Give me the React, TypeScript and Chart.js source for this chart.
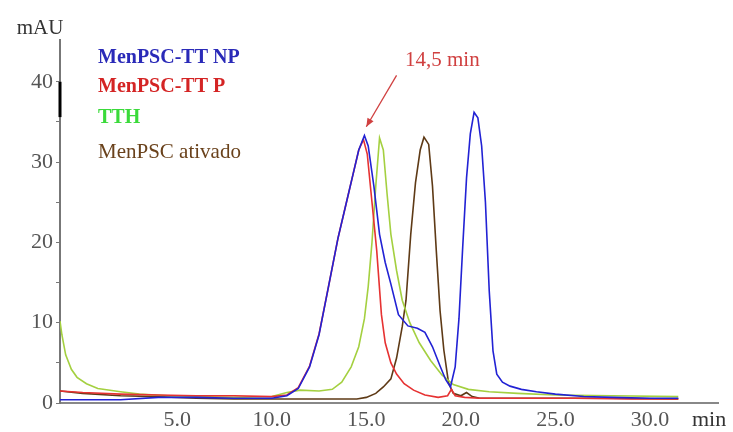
import React, { useEffect, useRef } from "react";
import { Chart, registerables } from "chart.js";

Chart.register(...registerables);

// ---- data ----
const seriesNames = ["MenPSC-TT NP", "MenPSC-TT P", "TTH", "MenPSC ativado"];
const xTickValues = [5, 10, 15, 20, 25, 30];
const yTickValues = [0, 5, 10, 15, 20, 25, 30, 35, 40];
const yLabelValues = [0, 10, 20, 30, 40];
const peakLabel = "14,5 min";
const yUnit = "mAU";
const xUnit = "min";

const npTime = [-1.2, 0, 2, 4, 6, 8, 10, 10.8, 11.4, 12.0, 12.5, 13.0, 13.5, 13.9, 14.3, 14.6, 14.9, 15.1, 15.4, 15.7, 16.0, 16.3, 16.7, 17.2, 17.7, 18.1, 18.5, 18.9, 19.2, 19.45, 19.7, 19.9, 20.1, 20.3, 20.5, 20.7, 20.9, 21.1, 21.3, 21.5, 21.7, 21.9, 22.2, 22.6, 23.2, 24.0, 25.0, 26.5, 28.0, 30.0, 31.5];
const npValues = [0.4, 0.4, 0.4, 0.7, 0.7, 0.6, 0.6, 0.9, 1.8, 4.5, 8.5, 14.5, 20.5, 24.5, 28.5, 31.5, 33.3, 32.0, 27.0, 21.0, 17.5, 14.8, 11.0, 9.6, 9.3, 8.8, 7.0, 4.6, 2.9, 2.0, 4.5, 10.5, 19.5, 28.0, 33.5, 36.2, 35.5, 32.0, 25.0, 14.0, 6.5, 3.6, 2.6, 2.1, 1.7, 1.4, 1.1, 0.8, 0.7, 0.6, 0.6];

const pTime = [-1.2, 0, 2, 4, 6, 8, 10, 10.8, 11.4, 12.0, 12.5, 13.0, 13.5, 13.9, 14.3, 14.6, 14.85, 15.05, 15.3, 15.55, 15.8, 16.0, 16.3, 16.6, 17.0, 17.5, 18.1, 18.8, 19.3, 19.5, 19.7, 20.2, 21, 23, 26, 29, 31.5];
const pValues = [1.5, 1.3, 1.1, 1.0, 0.9, 0.9, 0.8, 1.0, 1.9, 4.6, 8.6, 14.5, 20.5, 24.5, 28.5, 31.5, 32.8, 31.0, 25.0, 19.0, 11.0, 7.5, 5.0, 3.6, 2.4, 1.6, 1.0, 0.7, 0.9, 1.7, 0.9, 0.7, 0.6, 0.6, 0.6, 0.5, 0.5];

const tthTime = [-1.2, -1.1, -0.9, -0.6, -0.3, 0.2, 0.8, 2.0, 3.0, 4.5, 6, 8, 10, 10.8, 11.5, 12.5, 13.2, 13.7, 14.2, 14.6, 14.9, 15.1, 15.3, 15.5, 15.7, 15.9, 16.1, 16.3, 16.6, 16.9, 17.3, 17.8, 18.4, 19.0, 19.6, 20.4, 21.5, 23, 25, 28, 31.5];
const tthValues = [10.2, 8.5, 6.0, 4.2, 3.2, 2.4, 1.8, 1.4, 1.1, 0.9, 0.8, 0.7, 0.8, 1.3, 1.6, 1.5, 1.7, 2.6, 4.5, 7.0, 10.5, 14.5, 20.0, 27.0, 33.0, 31.5, 26.0, 21.0, 16.5, 12.8, 10.0, 7.5, 5.3, 3.5, 2.3, 1.7, 1.4, 1.2, 1.0, 0.9, 0.8];

const ativTime = [-1.2, 0, 2, 4, 6, 8, 10, 12, 13.5, 14.5, 15.0, 15.5, 15.9, 16.3, 16.6, 16.9, 17.1, 17.35, 17.6, 17.85, 18.05, 18.3, 18.5, 18.7, 18.9, 19.1, 19.35, 19.6, 20.0, 20.3, 20.6, 21.0, 22, 25, 28, 31.5];
const ativValues = [1.5, 1.2, 0.9, 0.8, 0.6, 0.5, 0.5, 0.5, 0.5, 0.5, 0.7, 1.2, 2.0, 3.0, 5.6, 9.5, 12.8, 21.0, 27.4, 31.5, 33.1, 32.2, 27.0, 19.0, 11.5, 6.6, 2.5, 1.2, 0.9, 1.3, 0.8, 0.6, 0.6, 0.6, 0.6, 0.5];

const lineColors = ["#2222d4", "#e63232", "#a4d040", "#5e3a16"];
const legendColors = ["#2a2ab8", "#d42424", "#3ada3a", "#6a421c"];

const toPoints = (t: number[], v: number[]) => t.map((x, i) => ({ x, y: v[i] }));

const SERIF = '"Liberation Serif", "Times New Roman", serif';

export default function App() {
  const ref = useRef<HTMLCanvasElement>(null);

  useEffect(() => {
    document.body.style.margin = "0";
    const canvas = ref.current!;

    const overlay = {
      id: "overlay",
      afterDraw(chart: any) {
        const c = chart.ctx;
        const xs = chart.scales.x;
        const ys = chart.scales.y;
        const area = chart.chartArea;
        c.save();
        // thick mark on the y axis
        c.strokeStyle = "#000";
        c.lineWidth = 3;
        c.beginPath();
        c.moveTo(area.left, ys.getPixelForValue(40));
        c.lineTo(area.left, ys.getPixelForValue(35.6));
        c.stroke();

        // axis units
        c.textBaseline = "middle";
        c.textAlign = "center";
        c.font = `21px ${SERIF}`;
        c.fillStyle = "#333";
        c.fillText(yUnit, area.left - 20, 28);
        c.textAlign = "left";
        c.font = `22px ${SERIF}`;
        c.fillText(xUnit, area.right - 26, 420);

        // legend texts
        const legendY = [58, 87, 118, 152];
        seriesNames.forEach((name, i) => {
          c.font = `${i < 3 ? "bold " : ""}${i < 3 ? 20 : 21}px ${SERIF}`;
          c.fillStyle = legendColors[i];
          c.fillText(name, 98, legendY[i]);
        });

        // peak annotation
        c.font = `21px ${SERIF}`;
        c.fillStyle = "#d04040";
        c.fillText(peakLabel, 405, 60);
        const x1 = xs.getPixelForValue(16.6);
        const y1 = ys.getPixelForValue(40.8);
        const x2 = xs.getPixelForValue(15.0);
        const y2 = ys.getPixelForValue(34.4);
        c.strokeStyle = "#d04040";
        c.lineWidth = 1.3;
        c.beginPath();
        c.moveTo(x1, y1);
        c.lineTo(x2, y2);
        c.stroke();
        const ang = Math.atan2(y2 - y1, x2 - x1);
        const L = 9;
        c.fillStyle = "#d04040";
        c.beginPath();
        c.moveTo(x2, y2);
        c.lineTo(x2 - L * Math.cos(ang - 0.4), y2 - L * Math.sin(ang - 0.4));
        c.lineTo(x2 - L * Math.cos(ang + 0.4), y2 - L * Math.sin(ang + 0.4));
        c.closePath();
        c.fill();
        c.restore();
      },
    };

    const datasets = [
      { label: seriesNames[0], data: toPoints(npTime, npValues) },
      { label: seriesNames[1], data: toPoints(pTime, pValues) },
      { label: seriesNames[2], data: toPoints(tthTime, tthValues) },
      { label: seriesNames[3], data: toPoints(ativTime, ativValues) },
    ].map((d, i) => ({
      ...d,
      borderColor: lineColors[i],
      backgroundColor: lineColors[i],
      borderWidth: 1.6,
      pointRadius: 0,
      tension: 0,
      fill: false,
    }));

    const chart = new Chart(canvas, {
      type: "line",
      data: { datasets },
      options: {
        animation: false,
        responsive: false,
        maintainAspectRatio: false,
        layout: { padding: { left: 0, right: 15, top: 40, bottom: 0 } },
        plugins: { legend: { display: false }, tooltip: { enabled: false } },
        scales: {
          x: {
            type: "linear",
            min: -1.2,
            max: 33.6,
            afterBuildTicks: (s: any) => {
              s.ticks = xTickValues.map((value) => ({ value }));
            },
            afterFit: (s: any) => {
              s.height = 29;
            },
            ticks: {
              callback: (v: any) => Number(v).toFixed(1),
              color: "#555",
              font: { family: SERIF, size: 22 },
              padding: 4,
              maxRotation: 0,
              autoSkip: false,
            },
            grid: { drawOnChartArea: false, drawTicks: false },
            border: { color: "#888", width: 2 },
          },
          y: {
            type: "linear",
            min: 0,
            max: 45.2,
            afterBuildTicks: (s: any) => {
              s.ticks = yTickValues.map((value) => ({ value }));
            },
            afterFit: (s: any) => {
              s.width = 60;
            },
            ticks: {
              callback: (v: any) => (yLabelValues.includes(Number(v)) ? String(v) : ""),
              color: "#555",
              font: { family: SERIF, size: 22 },
              padding: 3,
              autoSkip: false,
            },
            grid: { drawOnChartArea: false, drawTicks: true, tickLength: 4, color: "#777" },
            border: { color: "#777", width: 2 },
          },
        },
      },
      plugins: [overlay],
    });
    return () => chart.destroy();
  }, []);

  return (
    <div style={{ width: 733, height: 432, background: "#fff" }}>
      <canvas ref={ref} width={733} height={432} style={{ display: "block" }} />
    </div>
  );
}
